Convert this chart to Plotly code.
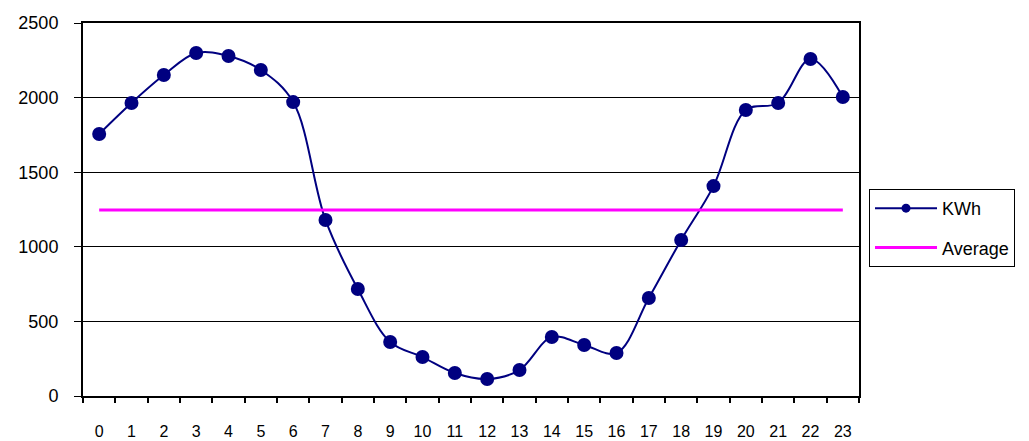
import plotly.graph_objects as go

hours = [str(h) for h in range(24)]
kwh = [1756, 1964, 2151, 2299, 2279, 2185, 1970, 1180, 717, 362, 261, 154,
       114, 174, 395, 342, 288, 657, 1046, 1407, 1917, 1964, 2259, 2004]
average = [1247] * 24

FONT = "Liberation Sans, Arial, sans-serif"
NAVY = "#000080"

fig = go.Figure()
fig.add_trace(go.Scatter(
    x=hours, y=kwh, name="KWh", mode="lines+markers",
    line=dict(color=NAVY, width=2, shape="spline", smoothing=1),
    marker=dict(color=NAVY, size=14),
    showlegend=False,
))
# Legend entry for the KWh series with a smaller symbol
fig.add_trace(go.Scatter(
    x=[None], y=[None], name="KWh", mode="lines+markers",
    line=dict(color=NAVY, width=2),
    marker=dict(color=NAVY, size=9),
    legendgroup="a",
))
fig.add_trace(go.Scatter(
    x=hours, y=average, name="Average", mode="lines",
    line=dict(color="#FF00FF", width=3),
    legendgroup="b",
))

fig.update_layout(
    width=1029, height=441,
    margin=dict(l=83, r=170, t=23, b=45),
    paper_bgcolor="white", plot_bgcolor="white",
    font=dict(family=FONT, color="black", size=15),
    showlegend=True,
    legend=dict(
        x=1.0129, xanchor="left", y=0.555, yanchor="top",
        bordercolor="black", borderwidth=1, bgcolor="white",
        font=dict(family=FONT, size=18, color="black"),
        itemwidth=62, tracegroupgap=13,
    ),
    xaxis=dict(
        type="category", range=[-0.5, 23.5],
        tickson="boundaries", ticks="outside", ticklen=5, tickwidth=2,
        tickcolor="black", showline=True, linecolor="black", linewidth=2,
        mirror=True, showgrid=False, tickfont=dict(size=16),
        ticklabelstandoff=20, automargin=False,
    ),
    yaxis=dict(
        range=[0, 2500], dtick=500, ticks="outside", ticklen=7,
        tickcolor="black", showline=True, linecolor="black", linewidth=2,
        mirror=True, showgrid=True, gridcolor="black", gridwidth=1,
        zeroline=False, tickfont=dict(size=18), ticklabelstandoff=12,
        automargin=False,
    ),
)

fig.write_html("out.html")
